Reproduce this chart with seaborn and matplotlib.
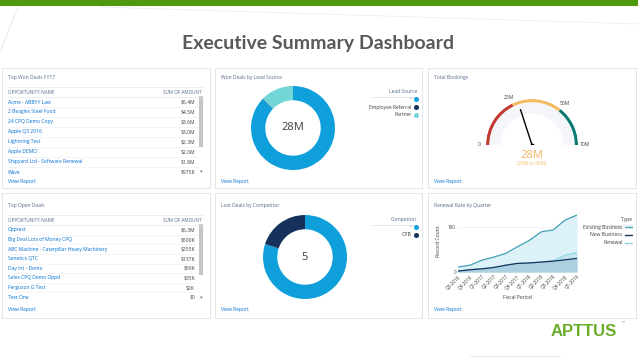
"""Executive summary dashboard: deal tables, donuts, bookings gauge and renewal area chart."""
import numpy as np
import pandas as pd
import seaborn as sns
import matplotlib.pyplot as plt
from matplotlib.lines import Line2D
from matplotlib.patches import Rectangle

W, H = 638, 359

# --- data -------------------------------------------------------------------
won_names = ["Acme - ABBYY Law", "2 Beagles Steel Food", "24 CPQ Demo Copy", "Apple Q3 2016",
             "Lightning Test", "Apple DEMO", "Shipyard Ltd - Software Renewal", "Wave"]
won_amounts = ["$6.4M", "$4.5M", "$3.6M", "$3.0M", "$2.3M", "$2.0M", "$1.8M", "$975K"]

open_names = ["Opptest", "Big Deal Lots of Money CPQ", "ABC Machine - Caterpillar Heavy Machinery",
              "Senetics QTC", "Day Int - Demo", "Sales CPQ Demo Oppd", "Ferguson G Test", "Test One"]
open_amounts = ["$6.3M", "$500K", "$255K", "$137K", "$59K", "$35K", "$2K", "$0"]

lead_sources = ["-", "Employee Referral", "Partner"]
lead_amounts = [24.4, 0.05, 3.55]          # millions
lead_colors = ["#0fa0dc", "#16325c", "#72d6d6"]

competitors = ["-", "OTB"]
competitor_counts = [4, 1]
competitor_colors = ["#0fa0dc", "#16325c"]

gauge_bands = [0, 25, 50, 70]             # millions
gauge_colors = ["#c23934", "#f4bc62", "#0b7a70"]
gauge_value = 28

quarters = ["Q3-2016", "Q4-2016", "Q1-2017", "Q2-2017", "Q3-2017", "Q4-2017",
            "Q1-2018", "Q2-2018", "Q3-2018", "Q4-2018", "Q1-2019"]
existing_business = [11, 15, 26, 33, 41, 56, 70, 89, 93, 115, 126]
new_business = [2, 5, 7, 10, 15, 19, 20, 22, 24, 27, 30]
renewal = [2, 5, 7, 10, 15, 19, 20, 22, 25, 37, 43]
type_colors = {"Existing Business": "#3f9fb5", "New Business": "#16325c", "Renewal": "#8bd6e2"}

# --- figure -----------------------------------------------------------------
sns.set_theme(style="white")
plt.rcParams["font.family"] = ["Open Sans", "DejaVu Sans"]

GRAY = "#54698d"
TEXT = "#3e3e3c"
LINK = "#0070d2"
SMALL = 3.6

fig = plt.figure(figsize=(W / 100, H / 100), dpi=100)
bg = fig.add_axes([0, 0, 1, 1])
bg.set_xlim(0, W)
bg.set_ylim(H, 0)
bg.axis("off")


def px_axes(x, y, w, h, **kw):
    return fig.add_axes([x / W, 1 - (y + h) / H, w / W, h / H], **kw)


# slide header
bg.add_patch(Rectangle((0, 0), W, 6, color="#4e9a0c", lw=0))
bg.plot([0, 18], [52, 7], color="#e9e9e9", lw=0.6)
bg.plot([100, 638], [7, 24], color="#eeeeee", lw=0.6)
bg.text(318, 43, "Executive Summary Dashboard", ha="center", va="center", fontsize=14,
        fontweight="bold", color="#595959", family=["Lato", "DejaVu Sans"])

# panels
panels = [(2, 68, 208, 120), (215, 68, 207, 120), (428, 68, 208, 120),
          (2, 193, 208, 125), (215, 193, 207, 125), (428, 193, 208, 125)]
titles = ["Top Won Deals FY17", "Won Deals by Lead Source", "Total Bookings",
          "Top Open Deals", "Lost Deals by Competitor", "Renewal Rate by Quarter"]
for (x, y, w, h), t in zip(panels, titles):
    bg.add_patch(Rectangle((x, y), w, h, facecolor="white", edgecolor="#dde1e6", lw=0.6))
    top = y < 100
    bg.text(x + 6, y + (9 if top else 13), t, fontsize=SMALL, color=GRAY, va="center")
    bg.text(x + 6, y + (114 if top else 117), "View Report", fontsize=SMALL, color=LINK, va="center")


def draw_table(top, names, amounts, step):
    bg.plot([8, 203], [top - 5, top - 5], color="#e3e6ea", lw=0.5)
    bg.plot([8, 203], [top + 5, top + 5], color="#e3e6ea", lw=0.5)
    bg.text(8, top, "OPPORTUNITY NAME", fontsize=3.3, color=GRAY, va="center")
    bg.text(202, top, "SUM OF AMOUNT", fontsize=3.3, color=GRAY, va="center", ha="right")
    for i, (n, a) in enumerate(zip(names, amounts)):
        yy = top + 10 + i * step
        bg.text(8, yy, n, fontsize=SMALL, color=LINK, va="center")
        bg.text(195, yy, a, fontsize=SMALL, color=TEXT, va="center", ha="right")
        if i < len(names) - 1:
            bg.plot([8, 198], [yy + step / 2] * 2, color="#eef1f5", lw=0.5)
    bg.add_patch(Rectangle((199, top + 4), 3.5, 51, color="#c6c6c6", lw=0))
    bg.text(201, top + 10 + 7 * step, "▾", fontsize=3.5, color="#777777", va="center", ha="center")


draw_table(92, won_names, won_amounts, 10)
draw_table(220, open_names, open_amounts, 9.6)


def donut(box, values, colors, center, labels, title, anchor, line_y):
    ax = px_axes(*box)
    ax.pie(values, colors=colors, startangle=90, counterclock=False,
           wedgeprops=dict(width=0.34, linewidth=0))
    ax.set_xlim(-1, 1)
    ax.set_ylim(-1, 1)
    ax.set_aspect("equal")
    ax.text(0, 0, center, ha="center", va="center", fontsize=8, color="#3e3e3c")
    handles = [Line2D([], [], marker="o", ls="", color=c, markersize=2.6) for c in colors]
    leg = ax.legend(handles, labels, title=title, loc="upper right",
                    bbox_to_anchor=(anchor[0] / W, 1 - anchor[1] / H), bbox_transform=fig.transFigure,
                    frameon=False, markerfirst=False, alignment="right", fontsize=SMALL,
                    title_fontsize=SMALL, handlelength=0.6, handletextpad=0.5, labelspacing=0.55,
                    borderpad=0, borderaxespad=0)
    for txt in leg.get_texts():
        txt.set_color(TEXT)
    leg.get_title().set_color(GRAY)
    bg.plot([372, 417], [line_y, line_y], color="#d8dde6", lw=0.5)


donut((251, 86, 84, 84), lead_amounts, lead_colors, f"{sum(lead_amounts):.0f}M",
      lead_sources, "Lead Source", (417, 89), 97)
donut((263, 215, 84, 84), competitor_counts, competitor_colors, f"{sum(competitor_counts)}",
      competitors, "Competitor", (417, 217), 225)

# gauge: a half-disc polar axes sits in the middle of a square box,
# so the square is placed to put the hub at (532, 145) with radius 46 px
gax = px_axes(486, 76, 92, 92, projection="polar")
gax.set_thetamin(0)
gax.set_thetamax(180)
gax.set_theta_zero_location("W")
gax.set_theta_direction(-1)
gax.set_ylim(0, 1)
gax.axis("off")
g_max = gauge_bands[-1]
to_theta = lambda v: np.pi * v / g_max
gax.bar(0, 0.25, width=np.pi, bottom=0.68, align="edge", color="#f4f6f9", linewidth=0)
for lo, hi, c in zip(gauge_bands[:-1], gauge_bands[1:], gauge_colors):
    gax.bar(to_theta(lo), 0.07, width=to_theta(hi) - to_theta(lo), bottom=0.93,
            align="edge", color=c, linewidth=0)
for b in gauge_bands:
    lab = "0" if b == 0 else f"{b}M"
    gax.text(to_theta(b), 1.15, lab, fontsize=SMALL, color=TEXT, ha="center", va="center")
th = to_theta(gauge_value)
gax.plot([th, th], [0.0, 0.82], color="black", lw=1.0, solid_capstyle="butt")
gax.plot([th], [0.0], "o", color="black", markersize=1.8)
band = np.searchsorted(gauge_bands, gauge_value) - 1
bg.text(532, 156, f"{gauge_value}M", ha="center", va="center", fontsize=8, color="#f2b45f")
bg.text(532, 164, f"({gauge_bands[band]}M to {gauge_bands[band + 1]}M)", ha="center",
        va="center", fontsize=3.4, color="#f2b45f")

# renewal area chart
aax = px_axes(458, 211, 119, 61)
x = np.arange(len(quarters))
df = pd.DataFrame({
    "idx": np.tile(x, 3),
    "count": existing_business + renewal + new_business,
    "Type": ["Existing Business"] * len(x) + ["Renewal"] * len(x) + ["New Business"] * len(x),
})
aax.fill_between(x, existing_business, color="#dcf1f8", lw=0)
aax.fill_between(x, renewal, color="#c7e6f0", lw=0)
aax.fill_between(x, new_business, color="#acd0df", lw=0)
sns.lineplot(data=df, x="idx", y="count", hue="Type", palette=type_colors,
             hue_order=["Existing Business", "Renewal", "New Business"], lw=0.9,
             legend=False, ax=aax)
aax.set_xlim(0, len(x) - 1)
aax.set_ylim(0, 135)
aax.set_yticks([0, 100])
aax.set_xticks(x)
aax.set_xticklabels(quarters, rotation=45, ha="right", rotation_mode="anchor")
aax.tick_params(labelsize=3.3, colors=TEXT, length=0, pad=1.5)
aax.grid(axis="y", color="#eceff3", lw=0.5)
sns.despine(ax=aax, left=True, bottom=True)
aax.set_facecolor("none")
aax.set_xlabel("Fiscal Period", fontsize=SMALL, color=TEXT, labelpad=3)
aax.set_ylabel("Record Count", fontsize=SMALL, color=TEXT, labelpad=5)
legend_order = ["Existing Business", "New Business", "Renewal"]
handles = [Line2D([], [], color=type_colors[t], lw=1) for t in legend_order]
leg = aax.legend(handles, legend_order, title="Type", loc="upper right",
                 bbox_to_anchor=(632 / W, 1 - 217 / H), bbox_transform=fig.transFigure,
                 frameon=False, markerfirst=False, alignment="right", fontsize=SMALL,
                 title_fontsize=SMALL, handlelength=1.4, handletextpad=0.5, labelspacing=0.55,
                 borderpad=0, borderaxespad=0)
for txt in leg.get_texts():
    txt.set_color(TEXT)
leg.get_title().set_color(TEXT)
bg.plot([585, 632], [225, 225], color="#d8dde6", lw=0.5)

# logo
bg.text(584, 331, "APTTUS", ha="center", va="center", fontsize=12, fontweight="bold",
        color="#6aab2a", family=["Liberation Sans", "DejaVu Sans"])
bg.text(622, 323, "™", fontsize=3, color="#6aab2a", va="center")
bg.plot([470, 560], [356, 356], color="#eeeeee", lw=0.8)

fig.savefig("out.png", dpi=100)
